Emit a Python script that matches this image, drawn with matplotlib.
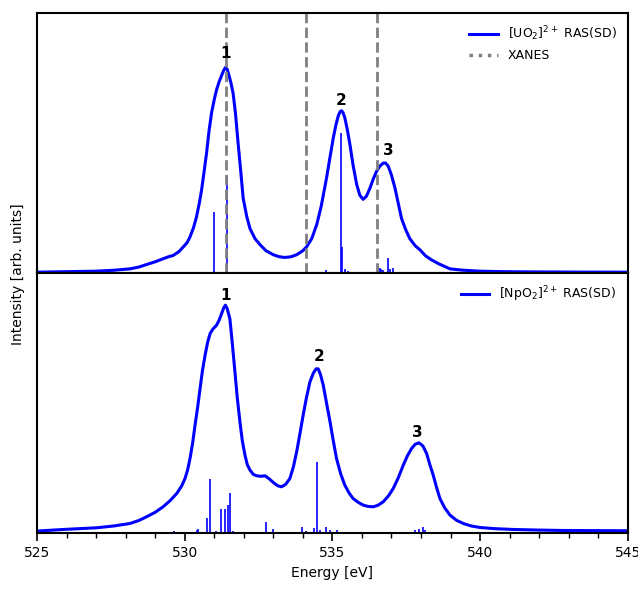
import numpy as np
import matplotlib
matplotlib.use("Agg")
import matplotlib.pyplot as plt
from matplotlib.lines import Line2D

# [UO2]2+ broadened spectrum (energy in eV, intensity arb.)
uo2_e = [525.0, 526.0, 527.0, 527.6, 528.15, 528.45, 528.71, 529.0, 529.27, 529.45,
         529.61, 529.8, 529.95, 530.08, 530.18, 530.3, 530.4, 530.5, 530.57, 530.65,
         530.74, 530.82, 530.91, 531.0, 531.08, 531.17, 531.25, 531.32, 531.38, 531.44,
         531.5, 531.57, 531.64, 531.72, 531.81, 531.9, 531.98, 532.1, 532.21, 532.38,
         532.55, 532.75, 533.0, 533.2, 533.39, 533.6, 533.79, 534.0, 534.13, 534.3,
         534.47, 534.62, 534.8, 534.92, 535.03, 535.12, 535.2, 535.26, 535.31, 535.36,
         535.42, 535.5, 535.59, 535.7, 535.82, 535.93, 536.04, 536.15, 536.27, 536.38,
         536.5, 536.61, 536.72, 536.8, 536.89, 537.0, 537.12, 537.23, 537.34, 537.48,
         537.62, 537.8, 537.96, 538.15, 538.35, 538.6, 538.98, 539.4, 539.99, 540.8,
         541.68, 543.3, 545.0]
uo2_i = [0.7, 1.2, 1.7, 2.6, 4.0, 5.8, 8.3, 11.0, 14.0, 16.0,
         17.3, 21.0, 25.7, 30.0, 35.7, 45.0, 55.7, 70.0, 82.0, 99.0,
         119.0, 140.0, 159.0, 172.0, 182.0, 190.0, 196.0, 201.0, 204.0, 202.0,
         196.0, 188.0, 178.0, 158.0, 128.0, 100.0, 74.0, 56.0, 44.0, 34.0,
         28.0, 22.0, 18.0, 16.0, 15.3, 16.0, 18.0, 22.0, 26.0, 34.0,
         48.0, 66.0, 94.0, 115.0, 134.0, 147.0, 156.0, 160.0, 161.0, 159.0,
         154.0, 143.0, 128.0, 107.0, 88.0, 77.0, 73.0, 76.0, 84.0, 93.0,
         101.0, 106.0, 109.0, 109.0, 106.0, 97.0, 84.0, 69.0, 54.0, 43.0,
         34.0, 27.0, 23.0, 17.0, 13.0, 9.0, 4.0, 2.7, 1.7, 1.2,
         1.0, 0.8, 0.7]
uo2_stick_e = [529.33, 530.99, 531.44, 534.8, 535.29, 535.33, 535.42, 535.54,
               536.55, 536.61, 536.66, 536.72, 536.89, 536.94, 537.06]
uo2_stick_i = [1.0, 60.7, 94.7, 3.0, 139.0, 25.7, 4.0, 1.5,
               7.0, 5.0, 4.0, 3.0, 15.0, 4.0, 5.0]
xanes_e = [531.40, 534.09, 536.50]

# [NpO2]2+ broadened spectrum
npo2_e = [525.0, 525.89, 527.02, 527.6, 528.15, 528.45, 528.71, 529.0, 529.27, 529.5,
          529.73, 529.9, 530.01, 530.1, 530.18, 530.27, 530.35, 530.44, 530.52, 530.6,
          530.69, 530.78, 530.86, 530.96, 531.08, 531.17, 531.25, 531.32, 531.38, 531.44,
          531.53, 531.61, 531.7, 531.78, 531.87, 531.95, 532.04, 532.12, 532.21, 532.32,
          532.43, 532.58, 532.72, 532.86, 533.0, 533.15, 533.28, 533.42, 533.56, 533.68,
          533.79, 533.9, 534.01, 534.12, 534.24, 534.36, 534.45, 534.52, 534.6, 534.69,
          534.8, 534.92, 535.03, 535.14, 535.28, 535.42, 535.56, 535.7, 535.87, 536.04,
          536.2, 536.38, 536.55, 536.72, 536.9, 537.06, 537.23, 537.4, 537.54, 537.68,
          537.8, 537.93, 538.06, 538.19, 538.3, 538.41, 538.52, 538.64, 538.8, 538.98,
          539.2, 539.43, 539.7, 539.99, 540.5, 541.12, 542.0, 542.81, 545.0]
npo2_i = [1.7, 3.3, 5.0, 6.8, 9.3, 12.3, 16.0, 20.5, 26.0, 32.0,
          39.3, 47.0, 54.3, 63.0, 74.3, 90.0, 107.7, 126.0, 144.3, 162.0,
          177.7, 191.0, 199.3, 204.0, 207.7, 213.0, 219.3, 225.0, 227.7, 224.0,
          214.0, 190.0, 161.0, 135.0, 111.0, 92.0, 77.7, 68.0, 62.7, 58.5,
          57.0, 56.5, 57.0, 54.0, 50.3, 47.0, 46.0, 48.5, 54.3, 66.0,
          81.0, 99.0, 117.7, 135.0, 151.0, 160.0, 164.0, 164.0, 158.0, 147.7,
          130.0, 111.0, 92.0, 74.3, 59.0, 47.7, 40.0, 34.3, 30.5, 27.7,
          26.4, 26.0, 27.6, 31.0, 37.0, 44.3, 55.0, 67.7, 77.0, 84.3,
          88.5, 90.0, 87.0, 79.3, 68.0, 58.0, 46.0, 34.3, 25.0, 17.7,
          12.5, 9.3, 6.8, 5.3, 4.1, 3.3, 2.7, 2.3, 2.0]
npo2_stick_e = [529.13, 529.65, 530.4, 530.46, 530.74, 530.85, 531.05, 531.22, 531.36,
                531.47, 531.52, 531.62, 532.75, 532.98, 533.96, 534.1, 534.37, 534.49,
                534.58, 534.78, 534.92, 535.14, 537.79, 537.93, 538.07, 538.13]
npo2_stick_i = [1.0, 2.0, 3.0, 4.0, 15.0, 53.7, 2.0, 23.3, 23.3,
                28.0, 40.0, 2.0, 11.0, 4.0, 6.0, 2.0, 5.0, 71.0,
                3.0, 6.0, 3.0, 3.0, 3.0, 4.0, 6.0, 3.0]

uo2_peaks = [(531.38, 218, "1"), (535.31, 171, "2"), (536.89, 121, "3")]
npo2_peaks = [(531.38, 237, "1"), (534.55, 176, "2"), (537.88, 100, "3")]

fig = plt.figure(figsize=(6.38, 5.9), dpi=100)
gs = fig.add_gridspec(2, 1, left=0.058, right=0.984, top=0.978, bottom=0.097, hspace=0)
ax1 = fig.add_subplot(gs[0])
ax2 = fig.add_subplot(gs[1], sharex=ax1)

# top panel
ax1.plot(uo2_e, uo2_i, color="blue", lw=2.2)
ax1.vlines(uo2_stick_e, 0, uo2_stick_i, color="blue", lw=1.2)
for xe in xanes_e:
    ax1.axvline(xe, color="grey", ls="--", lw=2)
for x, y, t in uo2_peaks:
    ax1.text(x, y, t, ha="center", va="center", fontsize=11, fontweight="bold")
ax1.set_ylim(0, 258)
handles = [Line2D([], [], color="blue", lw=2.2),
           Line2D([], [], color="grey", ls=":", lw=2.5)]
ax1.legend(handles, [r"[UO$_2$]$^{2+}$ RAS(SD)", "XANES"], loc="upper right",
           frameon=False, fontsize=9, handlelength=2.3, handletextpad=0.8)

# bottom panel
ax2.plot(npo2_e, npo2_i, color="blue", lw=2.2, label=r"[NpO$_2$]$^{2+}$ RAS(SD)")
ax2.vlines(npo2_stick_e, 0, npo2_stick_i, color="blue", lw=1.2)
for x, y, t in npo2_peaks:
    ax2.text(x, y, t, ha="center", va="center", fontsize=11, fontweight="bold")
ax2.set_ylim(0, 260)
ax2.legend(loc="upper right", frameon=False, fontsize=9, handlelength=2.3, handletextpad=0.8)

ax2.set_xlim(525, 545)
ax2.set_xticks([525, 530, 535, 540, 545])
ax2.set_xticks(np.arange(525, 546, 1), minor=True)
ax2.set_xlabel("Energy [eV]", fontsize=10)

for ax in (ax1, ax2):
    ax.set_yticks([])
    for sp in ax.spines.values():
        sp.set_linewidth(1.5)
ax1.tick_params(axis="x", which="both", bottom=False, labelbottom=False)
ax2.tick_params(axis="x", which="major", length=6, width=1.2, labelsize=10)
ax2.tick_params(axis="x", which="minor", length=3.5, width=1.0)

fig.text(0.028, 0.536, "Intensity [arb. units]", rotation=90, ha="center", va="center", fontsize=10)

plt.savefig("out.png", dpi=100)
